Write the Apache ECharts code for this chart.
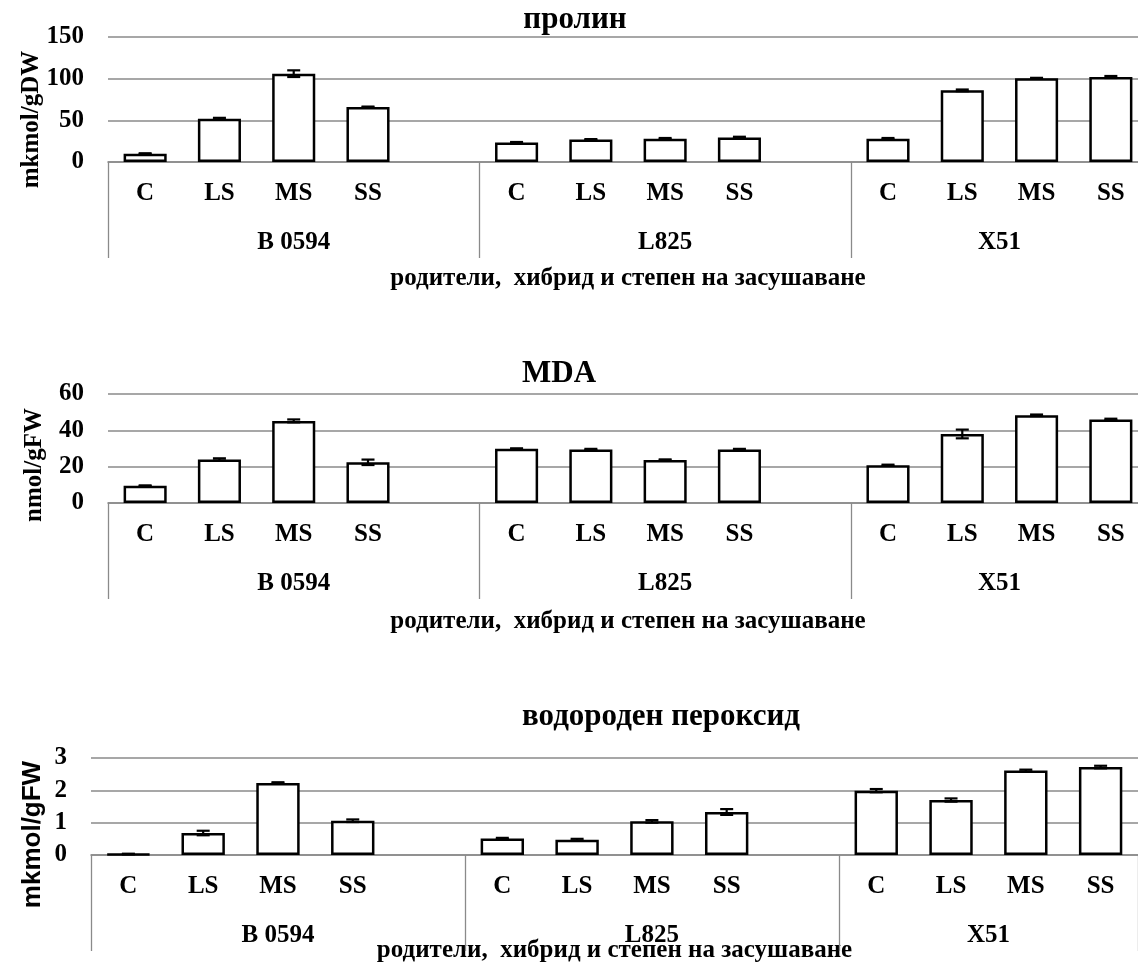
<!DOCTYPE html>
<html>
<head>
<meta charset="utf-8">
<script src="https://cdn.jsdelivr.net/npm/echarts@6/dist/echarts.min.js"></script>
<style>
  html, body { margin: 0; padding: 0; background: #fff; }
  #main { width: 1138px; height: 964px; }
</style>
</head>
<body>
<div id="main"></div>
<script>
// категории (празните са разделители между групите)
var categories = ['C', 'LS', 'MS', 'SS', '', 'C', 'LS', 'MS', 'SS', '', 'C', 'LS', 'MS', 'SS'];
var groupNames = ['B 0594', 'L825', 'X51'];
var groupSizes = [5, 5, 4];

// пролин
var prolineValues = [10, 52, 106, 66, null, 23.5, 27, 28, 29.5, null, 28, 86, 100.5, 102];
var prolineErrors = [0.5, 1, 4, 0.5, null, 0.5, 0.5, 0.8, 0.8, null, 0.8, 1, 0.5, 1.2];
// MDA
var mdaValues = [9.5, 24, 45.2, 22.4, null, 29.8, 29.5, 23.7, 29.5, null, 20.8, 38, 48.3, 46];
var mdaErrors = [0.2, 0.6, 0.8, 1.5, null, 0.3, 0.3, 0.3, 0.3, null, 0.3, 2.4, 0.4, 0.4];
// водороден пероксид
var peroxideValues = [0.03, 0.68, 2.23, 1.06, null, 0.51, 0.47, 1.04, 1.33, null, 1.99, 1.70, 2.61, 2.72];
var peroxideErrors = [0.01, 0.07, 0.02, 0.04, null, 0.02, 0.03, 0.04, 0.09, null, 0.05, 0.05, 0.03, 0.04];

var xTitle = 'родители,  хибрид и степен на засушаване';

var serif = 'Liberation Serif';
var gridGray = '#8a8a8a';

// граници и центрове на групите (в единици категории)
var bounds = [0];
groupSizes.forEach(function (s) { bounds.push(bounds[bounds.length - 1] + s); });
var centers = [];
for (var i = 0; i < groupSizes.length; i++) centers.push((bounds[i] + bounds[i + 1]) / 2);

var panels = [
  { title: 'пролин', titleX: 575, titleY: 20, values: prolineValues, errors: prolineErrors,
    yName: 'mkmol/gDW', yFont: serif, ySize: 25, yGap: 64, yShift: 40, max: 150, interval: 50,
    left: 108, top: 37, width: 1040, height: 125, catMargin: 19, grpMargin: 68, nameGap: 104 },
  { title: 'MDA', titleX: 559, titleY: 374, values: mdaValues, errors: mdaErrors,
    yName: 'nmol/gFW', yFont: serif, ySize: 25, yGap: 61, yShift: 33, max: 60, interval: 20,
    left: 108, top: 394, width: 1040, height: 109, catMargin: 19, grpMargin: 68, nameGap: 106 },
  { title: 'водороден пероксид', titleX: 661, titleY: 717, values: peroxideValues, errors: peroxideErrors,
    yName: 'mkmol/gFW', yFont: 'Liberation Sans', ySize: 26, yGap: 45, yShift: 56, max: 3, interval: 1,
    left: 91, top: 758, width: 1047, height: 97, catMargin: 19, grpMargin: 68, nameGap: 83 }
];

function renderError(params, api) {
  var x = api.value(0), v = api.value(1), e = api.value(2);
  var hi = api.coord([x, v + e]);
  var lo = api.coord([x, v - e]);
  var half = 6.5;
  var st = { stroke: '#000', lineWidth: 2.2 };
  return {
    type: 'group',
    children: [
      { type: 'line', shape: { x1: hi[0], y1: hi[1], x2: lo[0], y2: lo[1] }, style: st },
      { type: 'line', shape: { x1: hi[0] - half, y1: hi[1], x2: hi[0] + half, y2: hi[1] }, style: st },
      { type: 'line', shape: { x1: lo[0] - half, y1: lo[1], x2: lo[0] + half, y2: lo[1] }, style: st }
    ]
  };
}

var option = { animation: false, backgroundColor: '#fff', title: [], grid: [], xAxis: [], yAxis: [], series: [] };

panels.forEach(function (p, k) {
  option.title.push({
    text: p.title, left: p.titleX, top: p.titleY, textAlign: 'center', textVerticalAlign: 'middle', padding: 0,
    textStyle: { fontFamily: serif, fontWeight: 'bold', fontSize: 31, color: '#000' }
  });
  // outerBoundsMode none: сетката да не се свива, за да побере надписите
  option.grid.push({ left: p.left, top: p.top, width: p.width, height: p.height, outerBoundsMode: 'none', containLabel: false });
  option.yAxis.push({
    type: 'value', gridIndex: k, min: 0, max: p.max, interval: p.interval,
    name: p.yName, nameLocation: 'middle', nameGap: p.yGap, nameMoveOverlap: false,
    nameTextStyle: { fontFamily: p.yFont, fontWeight: 'bold', fontSize: p.ySize, color: '#000', padding: [0, p.yShift, 0, 0] },
    axisLine: { show: false }, axisTick: { show: false },
    axisLabel: { margin: 24, fontFamily: serif, fontWeight: 'bold', fontSize: 25, color: '#000' },
    splitLine: { lineStyle: { color: gridGray, width: 1.6 } }
  });
  // първо ниво: C, LS, MS, SS
  option.xAxis.push({
    type: 'category', gridIndex: k, data: categories, position: 'bottom',
    axisLine: { lineStyle: { color: gridGray, width: 1.6 } }, axisTick: { show: false },
    axisLabel: { interval: 0, margin: p.catMargin, fontFamily: serif, fontWeight: 'bold', fontSize: 25, color: '#000' }
  });
  // второ ниво: групи
  option.xAxis.push({
    type: 'value', gridIndex: k, min: 0, max: categories.length, position: 'bottom',
    axisLine: { show: false }, splitLine: { show: false },
    axisTick: { show: true, customValues: bounds, length: 96, lineStyle: { color: gridGray, width: 1.3 } },
    axisLabel: {
      customValues: centers, margin: p.grpMargin, fontFamily: serif, fontWeight: 'bold', fontSize: 25, color: '#000',
      formatter: function (v) {
        for (var j = 0; j < centers.length; j++) if (Math.abs(centers[j] - v) < 0.01) return groupNames[j];
        return '';
      }
    },
    name: xTitle, nameLocation: 'middle', nameGap: p.nameGap, nameMoveOverlap: false,
    nameTextStyle: { fontFamily: serif, fontWeight: 'bold', fontSize: 25, color: '#000' }
  });
  option.series.push({
    type: 'bar', xAxisIndex: 2 * k, yAxisIndex: k, data: p.values, barWidth: '58%',
    itemStyle: { color: '#fff', borderColor: '#000', borderWidth: 2.5 }
  });
  var errData = [];
  p.values.forEach(function (v, i) { if (v !== null) errData.push([i, v, p.errors[i]]); });
  option.series.push({
    type: 'custom', xAxisIndex: 2 * k, yAxisIndex: k, data: errData, z: 5,
    encode: { x: 0, y: 1 }, renderItem: renderError
  });
});

var chart = echarts.init(document.getElementById('main'));
chart.setOption(option);
</script>
</body>
</html>
